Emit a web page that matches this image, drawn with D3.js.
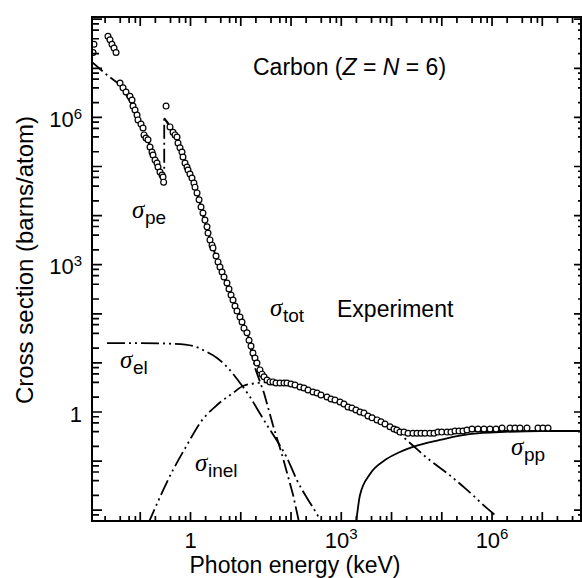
<!DOCTYPE html>
<html>
<head>
<meta charset="utf-8">
<script src="https://cdn.jsdelivr.net/npm/d3@7/dist/d3.min.js"></script>
<style>
body { margin: 0; background: #fff; }
svg { display: block; }
.lab { font-family: "Liberation Sans", Arial, sans-serif; fill: #000; }
.sig { font-family: "Liberation Serif", "Times New Roman", serif; font-style: italic; fill: #000; }
</style>
</head>
<body>
<div class="chart"></div>
<script>
// measured points, energy in keV, cross section in barns/atom
const expEnergy = [0.0120, 0.0115, 0.0228, 0.025, 0.0274, 0.0301, 0.033,
  0.0396, 0.0454, 0.0521, 0.0625, 0.0686, 0.0718, 0.0787, 0.0863, 0.0902, 0.1035, 0.1135, 0.1188, 0.130,
  0.1427, 0.1564, 0.1714, 0.1795, 0.197, 0.2155, 0.2256, 0.247, 0.271, 0.284, 0.292,
  0.326, 0.391, 0.449, 0.492, 0.539, 0.564, 0.618, 0.677, 0.709, 0.778, 0.852, 0.892, 0.977,
  1.07, 1.17, 1.23, 1.35, 1.48, 1.62, 1.77, 1.94, 2.13, 2.23, 2.44, 2.68, 2.80, 3.22, 3.53, 3.86,
  4.24, 4.64, 5.32, 5.83, 6.40, 7.01, 7.68, 8.42, 9.66, 10.6, 11.6, 13.3, 14.6, 16.0, 17.5, 19.2,
  21.0, 24.1, 26.5, 29.0, 33.3, 38.2, 43.8,
  50.3, 60.4, 72.5, 83.2, 100, 120, 151, 181, 218, 274, 329, 395, 520, 625, 750, 944,
  1130, 1360, 1630, 1960, 2360, 2830, 3400, 4090, 5140, 6170, 7410, 9310, 11200, 12800, 14700,
  17700, 21300, 26700, 32100, 38600, 46400, 58200, 70000, 84000, 1.0e5, 1.27e5, 1.52e5, 1.83e5,
  2.2e5, 2.64e5, 3.17e5, 3.99e5, 5.25e5, 6.92e5, 9.1e5, 1.2e6, 1.58e6, 2.28e6, 2.86e6, 3.6e6,
  4.96e6, 8.2e6, 1.03e7, 1.3e7];
const expSigma = [3.1e7, 2.1e7, 4.5e7, 3.8e7, 3.1e7, 2.6e7, 2.1e7,
  5.0e6, 4.0e6, 3.3e6, 2.7e6, 2.26e6, 1.7e6, 1.42e6, 1.12e6, 8.9e5, 7.3e5, 6.1e5, 4.4e5, 3.8e5,
  3.5e5, 2.5e5, 1.97e5, 1.71e5, 1.36e5, 1.18e5, 9.8e4, 7.7e4, 6.7e4, 6.1e4, 4.8e4,
  1.7e6, 6.4e5, 5.0e5, 4.4e5, 4.0e5, 3.0e5, 2.4e5, 1.97e5, 1.56e5, 1.18e5, 9.8e4, 8.5e4, 7.0e4,
  5.8e4, 4.6e4, 3.8e4, 2.9e4, 2.1e4, 1.5e4, 1.13e4, 8.1e3, 5.9e3, 4.4e3, 3.2e3, 2.5e3, 2.2e3, 1.5e3, 1140, 900,
  710, 560, 424, 320, 242, 191, 144, 114, 86, 68, 51, 41, 29, 22, 15.9, 12.6,
  9.95, 7.2, 5.9, 5.2, 4.5, 4.1, 4.1,
  3.9, 3.9, 3.9, 3.9, 3.72, 3.55, 3.23, 3.08, 2.81, 2.56, 2.44, 2.22, 2.02, 1.84, 1.76, 1.60,
  1.46, 1.26, 1.21, 1.10, 1.0, 0.95, 0.83, 0.76, 0.69, 0.63, 0.57, 0.50, 0.45, 0.43, 0.39,
  0.39, 0.37, 0.37, 0.37, 0.37, 0.37, 0.37, 0.37, 0.39, 0.39, 0.39, 0.39, 0.41,
  0.41, 0.41, 0.43, 0.45, 0.45, 0.45, 0.45, 0.45, 0.47, 0.47, 0.47, 0.47,
  0.47, 0.47, 0.47, 0.47];

// photoelectric (with K edge)
const peEnergy = [0.011, 0.0218, 0.0396, 0.0787, 0.156, 0.30, 0.30, 0.492, 0.778, 1.35, 2.23, 3.86,
  7.01, 13.3, 19.2, 29.0, 43.8, 69.2, 110, 144];
const peSigma = [1.34e7, 7.3e6, 4.6e6, 1.42e6, 2.6e5, 4.2e4, 9.7e5, 4.4e5, 1.18e5, 2.9e4, 4.4e3, 900,
  191, 41, 7.9, 2.44, 0.54, 0.116, 0.0204, 0.0058];

// coherent (elastic)
const elEnergy = [0.0218, 0.099, 0.492, 1.12, 1.94, 3.37, 5.57, 9.66, 15.3, 23.1, 33.3, 52.6, 83.2,
  131, 208, 344, 414];
const elSigma = [25.4, 25.4, 24.3, 22.1, 17.5, 12.6, 7.9, 3.9, 2.02, 1.0, 0.54, 0.26, 0.116,
  0.041, 0.0177, 0.0076, 0.0052];

// incoherent (Compton)
const inelEnergy = [0.1427, 0.449, 0.852, 1.55, 3.37, 7.01, 11.1, 22.0, 43.8, 100, 274, 944, 2700,
  5890, 11700, 23300, 50800, 1.27e5, 3.17e5, 7.9e5, 1.14e6];
const inelSigma = [0.0052, 0.066, 0.213, 0.60, 1.39, 2.44, 3.39, 3.9, 4.08, 3.72, 2.56, 1.60, 1.0,
  0.66, 0.43, 0.234, 0.116, 0.057, 0.026, 0.011, 0.008];

// pair production
const ppEnergy = [1960, 2360, 3730, 7410, 14700, 26700, 92000, 2.3e5, 5.75e5, 1.44e6, 9e6, 6.2e7];
const ppSigma = [0.0052, 0.0204, 0.0546, 0.105, 0.153, 0.194, 0.269, 0.332, 0.373, 0.39, 0.41, 0.41];

// total
const totEnergy = [0.30, 0.492, 0.778, 1.35, 2.23, 3.86, 7.01, 13.3, 21.0, 29.0, 38.2, 100, 274, 944,
  2700, 5890, 12800, 26700, 1.46e5, 5.75e5, 6.2e7];
const totSigma = [9.7e5, 4.4e5, 1.18e5, 2.9e4, 4.4e3, 900, 191, 41, 9.95, 5.4, 4.1, 3.72, 2.56, 1.60,
  1.0, 0.69, 0.43, 0.37, 0.39, 0.41, 0.41];

const xLabelValues = [1, 1e3, 1e6];
const xLabelBase = ['1', '10', '10'];
const xLabelExp = ['', '3', '6'];
const yLabelValues = [1, 1e3, 1e6];
const yLabelBase = ['1', '10', '10'];
const yLabelExp = ['', '3', '6'];
const majorTicksX = [0.1, 1, 10, 100, 1e3, 1e4, 1e5, 1e6, 1e7];
const majorTicksY = [0.01, 0.1, 1, 10, 100, 1e3, 1e4, 1e5, 1e6, 1e7, 1e8];
const minorSteps = [2, 4, 6, 8];

const width = 582, height = 578;
const plotLeft = 92, plotRight = 581, plotTop = 17, plotBottom = 521;

const svg = d3.select('.chart').append('svg')
    .attr('width', width)
    .attr('height', height)
    .attr('viewBox', `0 0 ${width} ${height}`);

const x = d3.scaleLog().domain([Math.pow(10, -1.96), Math.pow(10, 7.77)]).range([plotLeft, plotRight]);
const y = d3.scaleLog().domain([Math.pow(10, -2.22), Math.pow(10, 8.045)]).range([plotBottom, plotTop]);

function minorTicks(scale, majors) {
    const d = scale.domain();
    const out = [];
    [majors[0] / 10].concat(majors).forEach(m => minorSteps.forEach(k => out.push(k * m)));
    return out.filter(v => v > d[0] && v < d[1]);
}
function inside(scale, vals) {
    const d = scale.domain();
    return vals.filter(v => v >= d[0] && v <= d[1]);
}

/*      curves      */
svg.append('clipPath').attr('id', 'plotclip')
    .append('rect').attr('x', plotLeft).attr('y', plotTop)
    .attr('width', plotRight - plotLeft).attr('height', plotBottom - plotTop);
const plot = svg.append('g').attr('clip-path', 'url(#plotclip)');

const zip = (a, b) => a.map((v, i) => [v, b[i]]);
const lineLin = d3.line().x(d => x(d[0])).y(d => y(d[1]));
const lineSmooth = d3.line().x(d => x(d[0])).y(d => y(d[1])).curve(d3.curveMonotoneX);

const curves = [
    { data: zip(peEnergy, peSigma), gen: lineLin, dash: '14 4 2 4' },
    { data: zip(elEnergy, elSigma), gen: lineSmooth, dash: '18 4 2 4 2 4' },
    { data: zip(inelEnergy, inelSigma), gen: lineSmooth, dash: '16 4 2 4 2 4' },
    { data: zip(ppEnergy, ppSigma), gen: lineSmooth, dash: null },
    { data: zip(totEnergy, totSigma), gen: lineSmooth, dash: null }
];
curves.forEach(c => {
    plot.append('path')
        .attr('d', c.gen(c.data))
        .attr('fill', 'none')
        .attr('stroke', '#000')
        .attr('stroke-width', 1.8)
        .attr('stroke-dasharray', c.dash);
});

plot.selectAll('circle.exp')
    .data(zip(expEnergy, expSigma))
    .enter()
    .append('circle')
    .attr('class', 'exp')
    .attr('cx', d => x(d[0]))
    .attr('cy', d => y(d[1]))
    .attr('r', 2.9)
    .attr('fill', '#fff')
    .attr('stroke', '#000')
    .attr('stroke-width', 1.2);

/*      tick labels      */
xLabelValues.forEach((v, i) => {
    const t = svg.append('text').attr('class', 'lab')
        .attr('x', x(v)).attr('y', 548)
        .attr('text-anchor', 'middle').attr('font-size', 22);
    t.append('tspan').text(xLabelBase[i]);
    if (xLabelExp[i]) t.append('tspan').attr('font-size', 15).attr('dy', -9).text(xLabelExp[i]);
});
yLabelValues.forEach((v, i) => {
    const t = svg.append('text').attr('class', 'lab')
        .attr('x', 82).attr('y', y(v) + 9.5)
        .attr('text-anchor', 'end').attr('font-size', 22);
    t.append('tspan').text(yLabelBase[i]);
    if (yLabelExp[i]) t.append('tspan').attr('font-size', 15).attr('dy', -8).text(yLabelExp[i]);
});

/*      axis titles      */
svg.append('text').attr('class', 'lab')
    .attr('x', 295).attr('y', 573)
    .attr('text-anchor', 'middle').attr('font-size', 23)
    .text('Photon energy (keV)');
svg.append('text').attr('class', 'lab')
    .attr('transform', 'translate(33,260) rotate(-90)')
    .attr('text-anchor', 'middle').attr('font-size', 24)
    .text('Cross section (barns/atom)');

/*      annotations      */
const chartTitle = svg.append('text').attr('class', 'lab')
    .attr('x', 253).attr('y', 75).attr('font-size', 23);
chartTitle.append('tspan').text('Carbon (');
chartTitle.append('tspan').attr('font-style', 'italic').text('Z');
chartTitle.append('tspan').text(' = ');
chartTitle.append('tspan').attr('font-style', 'italic').text('N');
chartTitle.append('tspan').text(' = 6)');

svg.append('text').attr('class', 'lab')
    .attr('x', 337).attr('y', 317).attr('font-size', 23)
    .text('Experiment');

const sigmaLabels = [
    { sub: 'pe', x: 132, y: 218 },
    { sub: 'tot', x: 270, y: 316 },
    { sub: 'el', x: 120, y: 368 },
    { sub: 'inel', x: 195, y: 471 },
    { sub: 'pp', x: 511, y: 455 }
];
sigmaLabels.forEach(s => {
    svg.append('text').attr('class', 'sig')
        .attr('x', s.x).attr('y', s.y).attr('font-size', 25).text('σ');
    svg.append('text').attr('class', 'lab')
        .attr('x', s.x + 13).attr('y', s.y + 6).attr('font-size', 19).text(s.sub);
});

/*      frame and inward tick marks, one path per side      */
svg.append('rect')
    .attr('x', plotLeft).attr('y', plotTop)
    .attr('width', plotRight - plotLeft).attr('height', plotBottom - plotTop)
    .attr('fill', 'none').attr('stroke', '#000').attr('stroke-width', 2);

function xTickPath(vals, yPos, len) {
    return inside(x, vals).map(v => `M${x(v)},${yPos}V${yPos + len}`).join('');
}
function yTickPath(vals, xPos, len) {
    return inside(y, vals).map(v => `M${xPos},${y(v)}H${xPos + len}`).join('');
}
const tickPaths = [
    xTickPath(majorTicksX, plotBottom, -9),
    xTickPath(minorTicks(x, majorTicksX), plotBottom, -5),
    xTickPath(majorTicksX, plotTop, 9),
    xTickPath(minorTicks(x, majorTicksX), plotTop, 6),
    yTickPath(majorTicksY, plotLeft, 10),
    yTickPath(minorTicks(y, majorTicksY), plotLeft, 7),
    yTickPath(majorTicksY, plotRight, -7),
    yTickPath(minorTicks(y, majorTicksY), plotRight, -3)
];
svg.append('path')
    .attr('d', tickPaths.join(''))
    .attr('fill', 'none')
    .attr('stroke', '#000')
    .attr('stroke-width', 1.7);
</script>
</body>
</html>
